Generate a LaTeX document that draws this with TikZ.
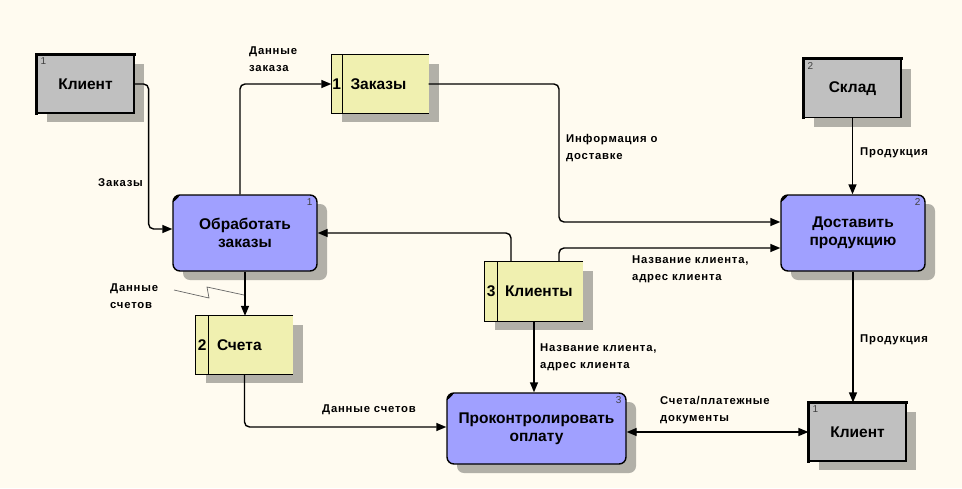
\documentclass[tikz,border=0pt]{standalone}
\usepackage{fontspec}
\setmainfont{Liberation Sans}
\usetikzlibrary{arrows.meta,shadows,calc}
\definecolor{bgc}{RGB}{255,251,240}
\definecolor{procc}{RGB}{160,160,255}
\definecolor{storec}{RGB}{240,240,176}
\definecolor{entc}{RGB}{192,192,192}
\definecolor{shc}{RGB}{178,176,168}
\newfontfamily\lblfont[LetterSpace=7]{Liberation Sans}
\tikzset{
  shd/.style={general shadow={fill=shc, shadow xshift=10pt, shadow yshift=-9pt}},
  proc/.style={shd, draw=black, line width=1.4pt, fill=procc, rounded corners=7pt, minimum width=#1, inner sep=0pt, align=center, font=\bfseries\fontsize{15.5}{18}\selectfont},
  entity/.style={shd, draw=black, line width=1.2pt, fill=entc, minimum width=97pt, minimum height=58pt, inner sep=0pt, font=\bfseries\fontsize{15.5}{18}\selectfont},
  storebox/.style={shd, fill=storec, minimum width=97pt, minimum height=58pt, inner sep=0pt},
  flow/.style={line width=1.4pt, rounded corners=5pt, -{Triangle[length=10pt,width=8pt]}},
  lbl/.style={anchor=west, inner sep=0pt, align=left, font=\lblfont\bfseries\fontsize{11.3}{17}\selectfont},
  num/.style={inner sep=0pt, text=black!75, font=\fontsize{10}{12}\selectfont},
  snum/.style={inner sep=0pt, font=\bfseries\fontsize{15.5}{18}\selectfont},
  stxt/.style={inner sep=0pt, anchor=west, font=\bfseries\fontsize{15.5}{18}\selectfont},
}
\begin{document}
\begin{tikzpicture}[x=1pt,y=-1pt]
\fill[bgc] (0,0) rectangle (962,488);
\useasboundingbox (0,0) rectangle (962,488);

% entities
\node[entity] (c1) at (85.5,84) {Клиент};
\draw[line width=3pt] ([yshift=-1pt]c1.south west) -- (c1.north west) -- ([xshift=1pt]c1.north east);
\node[num, anchor=north west] (c1n) at ([xshift=4pt,yshift=-3pt]c1.north west) {1};

\node[entity] (sk) at (852.5,88.5) {Склад};
\draw[line width=3pt] ([yshift=-1pt]sk.south west) -- (sk.north west) -- ([xshift=1pt]sk.north east);
\node[num, anchor=north west] (skn) at ([xshift=4pt,yshift=-3pt]sk.north west) {2};

\node[entity] (c2) at (857.5,432) {Клиент};
\draw[line width=3pt] ([yshift=-1pt]c2.south west) -- (c2.north west) -- ([xshift=1pt]c2.north east);
\node[num, anchor=north west] (c2n) at ([xshift=4pt,yshift=-3pt]c2.north west) {1};

% processes
\node[proc=144pt, minimum height=76pt] (p1) at (245,233) {Обработать\\заказы};
\node[num, anchor=north east] (p1n) at ([xshift=-5pt,yshift=-4pt]p1.north east) {1};
\draw[line width=2pt] ([xshift=1.5pt,yshift=-6pt]p1.north west) -- ([xshift=6pt,yshift=-1.5pt]p1.north west);

\node[proc=144pt, minimum height=76pt] (p2) at (853,233) {Доставить\\продукцию};
\node[num, anchor=north east] (p2n) at ([xshift=-5pt,yshift=-4pt]p2.north east) {2};
\draw[line width=2pt] ([xshift=1.5pt,yshift=-6pt]p2.north west) -- ([xshift=6pt,yshift=-1.5pt]p2.north west);

\node[proc=179pt, minimum height=71pt] (p3) at (536.5,428.5) {Проконтролировать\\оплату};
\node[num, anchor=north east] (p3n) at ([xshift=-5pt,yshift=-4pt]p3.north east) {3};
\draw[line width=2pt] ([xshift=1.5pt,yshift=-6pt]p3.north west) -- ([xshift=6pt,yshift=-1.5pt]p3.north west);

% stores
\node[storebox] (s1) at (380,84) {};
\draw[line width=1.2pt] (s1.north east) -- (s1.north west) -- (s1.south west) -- (s1.south east);
\draw[line width=1.2pt] ([xshift=11pt]s1.north west) -- ([xshift=11pt]s1.south west);
\node[snum] (s1n) at ([xshift=5.5pt]s1.west) {1};
\node[stxt] (s1t) at ([xshift=19pt]s1.west) {Заказы};

\node[storebox] (s2) at (244.5,345) {};
\draw[line width=1.2pt] (s2.north east) -- (s2.north west) -- (s2.south west) -- (s2.south east);
\draw[line width=1.2pt] ([xshift=13pt]s2.north west) -- ([xshift=13pt]s2.south west);
\node[snum] (s2n) at ([xshift=6.5pt]s2.west) {2};
\node[stxt] (s2t) at ([xshift=21pt]s2.west) {Счета};

\node[storebox, minimum width=98pt, minimum height=59pt] (s3) at (534,291.5) {};
\draw[line width=1.2pt] (s3.north east) -- (s3.north west) -- (s3.south west) -- (s3.south east);
\draw[line width=1.2pt] ([xshift=13pt]s3.north west) -- ([xshift=13pt]s3.south west);
\node[snum] (s3n) at ([xshift=6.5pt]s3.west) {3};
\node[stxt] (s3t) at ([xshift=20pt]s3.west) {Клиенты};

% flows
\draw[flow] (c1.east) -- ++(14,0) |- ([yshift=4pt]p1.west);
\draw[flow] ([xshift=-5pt]p1.north) |- (s1.west);
\draw[flow] (s1.east) -| (559,150) |- ([yshift=11pt]p2.west);
\draw[flow] ([xshift=-23pt]s3.north) |- (p1.east);
\draw[flow] ([xshift=25pt]s3.north) |- ([yshift=-15pt]p2.west);
\draw[flow] (sk.south) -- (sk.south |- p2.north);
\draw[flow] (p2.south) -- (p2.south |- c2.north);
\draw[flow] (p1.south) -- (p1.south |- s2.north);
\draw[flow] (s2.south) |- ([yshift=1.5pt]p3.west);
\draw[flow] (s3.south) -- (s3.south |- p3.north);
\draw[flow, {Triangle[length=10pt,width=8pt]}-{Triangle[length=10pt,width=8pt]}] ([yshift=-3.5pt]p3.east) -- ([yshift=0pt]c2.west);

% labels
\node[lbl] (l1) at (98,183) {Заказы};
\node[lbl] (l2) at (249,59) {Данные\\заказа};
\node[lbl] (l3) at (566,148) {Информация о\\доставке};
\node[lbl] (l4) at (632,269) {Название клиента,\\адрес клиента};
\node[lbl] (l5) at (860,153) {Продукция};
\node[lbl] (l6) at (860,340) {Продукция};
\node[lbl] (l7) at (110,296) {Данные\\счетов};
\node[lbl] (l8) at (322,410) {Данные счетов};
\node[lbl] (l9) at (540,357) {Название клиента,\\адрес клиента};
\node[lbl] (l10) at (660,410) {Счета/платежные\\документы};

% zigzag leader
\coordinate (z0) at (174,290);
\coordinate (z1) at (209,298);
\coordinate (z2) at (207,287);
\coordinate (z3) at (244,295);
\draw[line width=0.7pt, black!60] (z0) -- (z1) -- (z2) -- (z3);
\end{tikzpicture}
\end{document}
